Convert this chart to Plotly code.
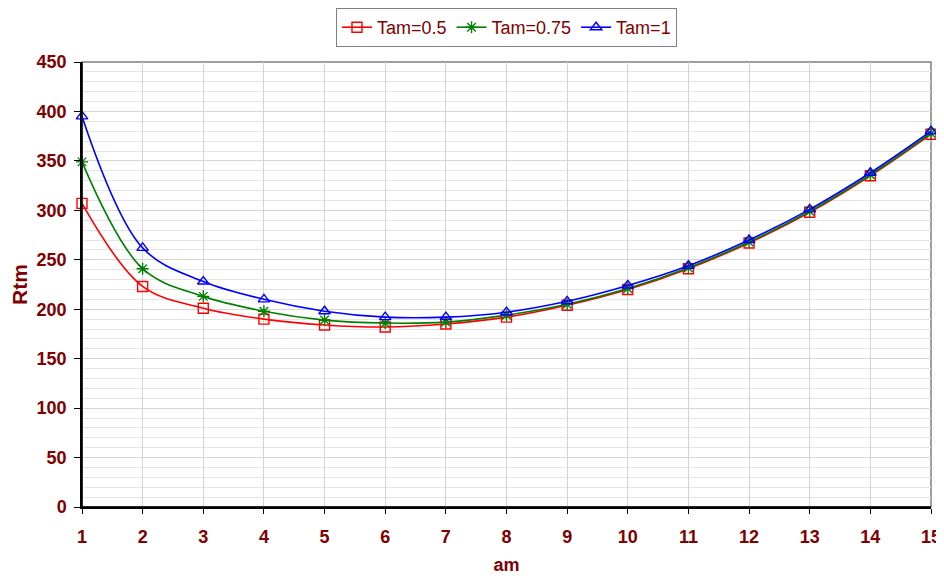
import plotly.graph_objects as go

am = list(range(1, 16))
tam_05 = [307, 223, 201, 190, 184, 182, 185, 192, 204, 220, 241, 267, 298, 335, 377]
tam_075 = [349, 241, 213, 198, 189, 186, 187, 194, 205, 221, 242, 268, 299, 336, 378]
tam_1 = [395, 262, 228, 210, 198, 192, 192, 197, 208, 224, 244, 270, 301, 338, 380]
series_names = ["Tam=0.5", "Tam=0.75", "Tam=1"]

maroon = "#7f0000"
FONT = "Liberation Sans, Arial"
fig = go.Figure()
styles = [
    (tam_05, "#ff0000", "square-open"),
    (tam_075, "#008000", "asterisk-open"),
    (tam_1, "#0000ff", "triangle-up-open"),
]
for (vals, col, sym), name in zip(styles, series_names):
    fig.add_trace(go.Scatter(
        x=am, y=vals, name=name, mode="lines+markers",
        line=dict(color=col, width=1.6, shape="spline", smoothing=1.0),
        marker=dict(symbol=sym, size=10, color=col, line=dict(color=col, width=1.4)),
        cliponaxis=False,
    ))

# page body has an 8px margin; the figure is sized and placed to compensate
fig.update_layout(
    width=936, height=574,
    paper_bgcolor="white", plot_bgcolor="white",
    margin=dict(l=74, r=13, t=54, b=75, autoexpand=False),
    font=dict(family=FONT, color=maroon, size=18),
    legend=dict(
        orientation="h", x=0.5, xanchor="center", y=1.0, yanchor="top",
        yref="container", bordercolor="#808080", borderwidth=1,
        font=dict(size=18, color=maroon, family=FONT),
        tracegroupgap=0, itemsizing="trace",
    ),
    showlegend=True,
)

fig.update_xaxes(
    range=[1, 15], dtick=1, tick0=1,
    showline=True, linecolor="#000000", linewidth=1.5, mirror=False,
    showgrid=True, gridcolor="#d4d4d4", gridwidth=1,
    ticks="outside", ticklen=5, tickcolor="#000000",
    ticklabelstandoff=8,
    tickfont=dict(size=18, color=maroon, family=FONT, weight="bold"),
    title=dict(text="<b>am</b>", font=dict(size=18, color=maroon), standoff=12),
    zeroline=False, automargin=False,
)
fig.update_yaxes(
    range=[0, 450], dtick=50,
    showline=True, linecolor="#000000", linewidth=1.5,
    showgrid=True, gridcolor="#d4d4d4", gridwidth=1,
    minor=dict(dtick=10, showgrid=True, gridcolor="#e4e4e4", gridwidth=1),
    ticks="outside", ticklen=6, tickcolor="#000000",
    ticklabelstandoff=4,
    tickfont=dict(size=18, color=maroon, family=FONT, weight="bold"),
    title=dict(text="<b>Rtm</b>", font=dict(size=21, color=maroon), standoff=4),
    zeroline=False, automargin=False,
)
fig.add_shape(type="rect", xref="paper", yref="paper", x0=0, y0=0, x1=1, y1=1,
              line=dict(color="#808080", width=1.5), layer="below")
fig.add_shape(type="line", xref="paper", yref="paper", x0=0, y0=0, x1=0, y1=1,
              line=dict(color="#000000", width=1.5))
fig.add_shape(type="line", xref="paper", yref="paper", x0=0, y0=0, x1=1, y1=0,
              line=dict(color="#000000", width=1.5))

fig.write_html("out.html")
